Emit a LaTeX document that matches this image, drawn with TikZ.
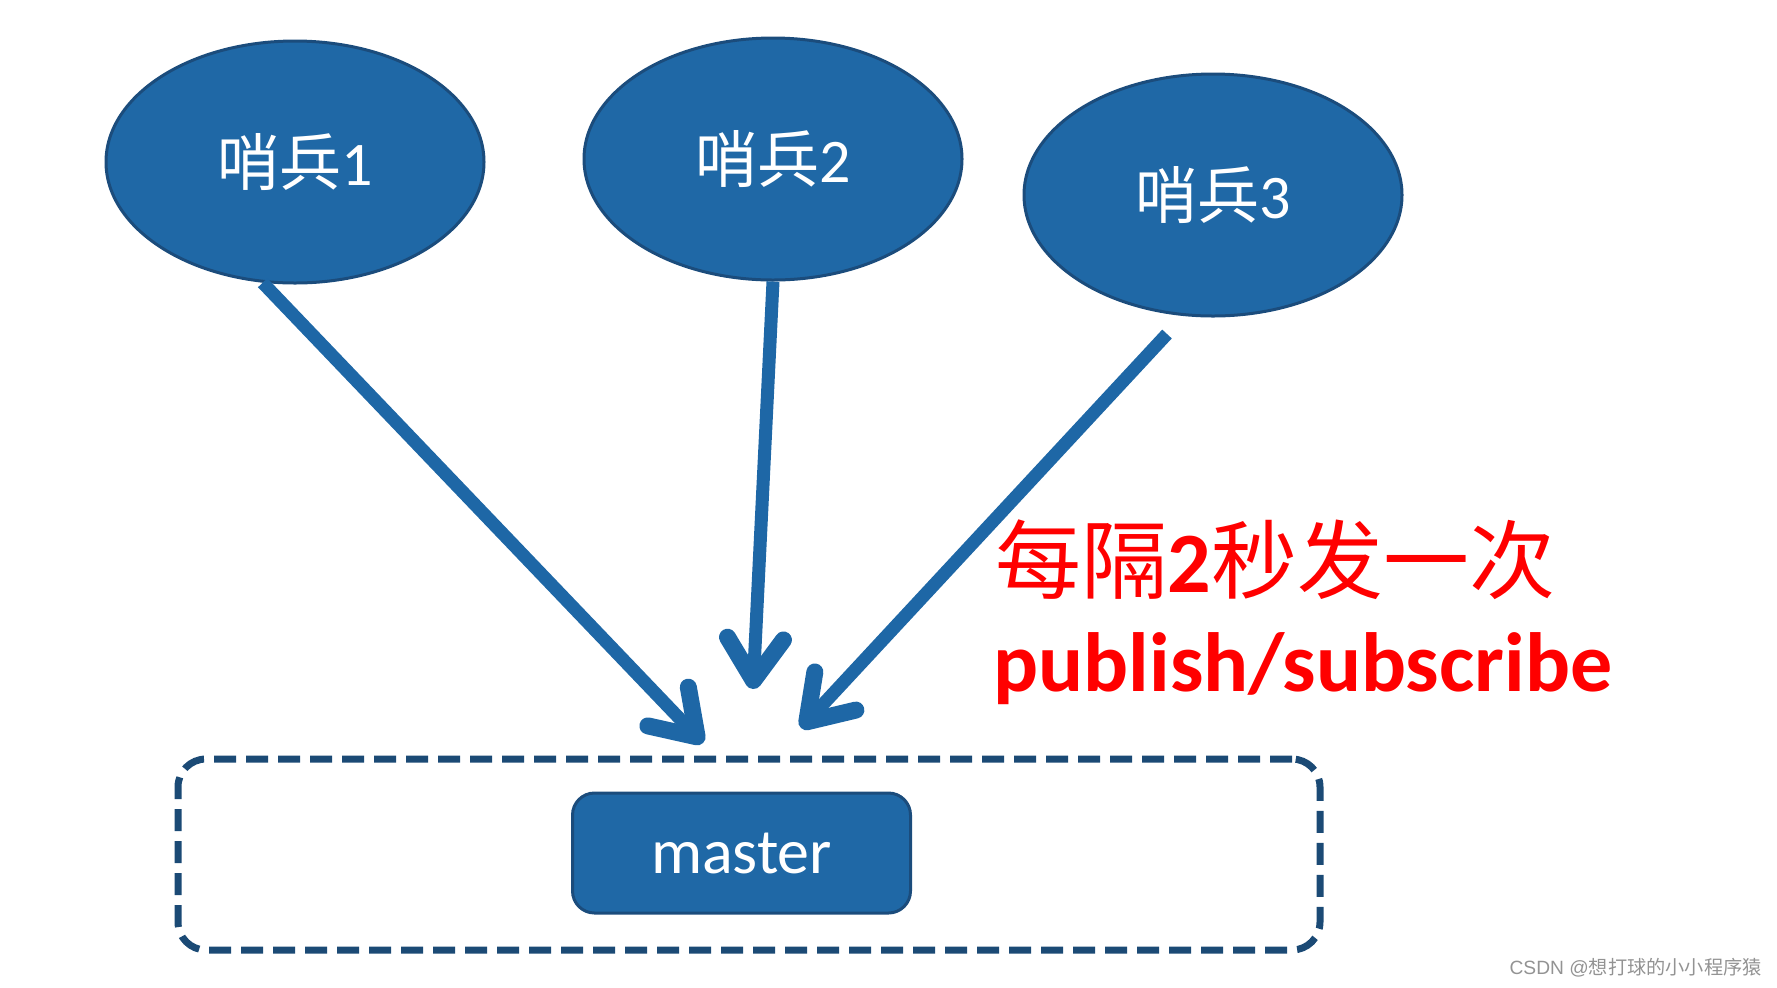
\documentclass[tikz,border=0pt]{standalone}
\usepackage{fontspec}
\setmainfont{Carlito}
\newfontfamily\cjk{Noto Sans CJK SC}
\newfontfamily\wmfont{Liberation Sans}
\usetikzlibrary{shapes.geometric,arrows.meta}
\definecolor{nodeblue}{HTML}{1F68A6}
\definecolor{edgeblue}{HTML}{1B4C7C}
\definecolor{dashblue}{HTML}{1B4A75}
\definecolor{arrowblue}{HTML}{1E67A6}
\tikzset{
  sentinel/.style={ellipse, fill=nodeblue, draw=edgeblue, line width=1.5pt,
    minimum width=189pt, minimum height=121pt, inner sep=0pt,
    text=white, font=\fontsize{31pt}{36pt}\selectfont},
  masterbox/.style={rectangle, rounded corners=11pt, fill=nodeblue, draw=edgeblue,
    line width=1.5pt, minimum width=169pt, minimum height=60pt, inner sep=0pt,
    text=white, font=\fontsize{32pt}{38pt}\selectfont},
  flow/.style={draw=arrowblue, line width=6.5pt,
    -{Straight Barb[length=21pt, width=28pt, line width=8.5pt, round]}},
  group/.style={draw=dashblue, line width=3.5pt, dash pattern=on 11pt off 5pt,
    rounded corners=14pt},
  redtext/.style={text=red, anchor=west, inner sep=0pt}
}
\begin{document}
\begin{tikzpicture}[x=0.5pt,y=-0.5pt]
\useasboundingbox (0,0) rectangle (1777,987);
\node[sentinel] (e1) at (295,162) {{\cjk 哨兵}1};
\node[sentinel] (e2) at (773,159) {{\cjk 哨兵}2};
\node[sentinel] (e3) at (1213,195) {{\cjk 哨兵}3};
\node[group, minimum width=571pt, minimum height=95.5pt, inner sep=0pt] (grp) at (749,854.5) {};
\node[masterbox] (m) at (741.5,853) {master};
\coordinate (s3) at (1167,334);
\coordinate (t1) at (703,743);
\coordinate (t2) at (753,689);
\coordinate (t3) at (801,728);
\draw[flow] (e1.255) -- (t1);
\draw[flow] (e2.270) -- (t2);
\draw[flow] (s3) -- (t3);
\node[redtext, font=\fontsize{43pt}{48pt}\selectfont] (l1) at (995,560) {{\cjk 每隔}\textbf{2}{\cjk 秒发一次}};
\node[redtext, anchor=base west, font=\bfseries\fontsize{42pt}{48pt}\selectfont] (l2) at (993,691) {publish/subscribe};
\node[anchor=east, inner sep=0pt, text=gray!85, font=\fontsize{9.6pt}{12pt}\selectfont] (wm) at (1762,968) {\wmfont CSDN @{\cjk 想打球的小小程序猿}};
\end{tikzpicture}
\end{document}
